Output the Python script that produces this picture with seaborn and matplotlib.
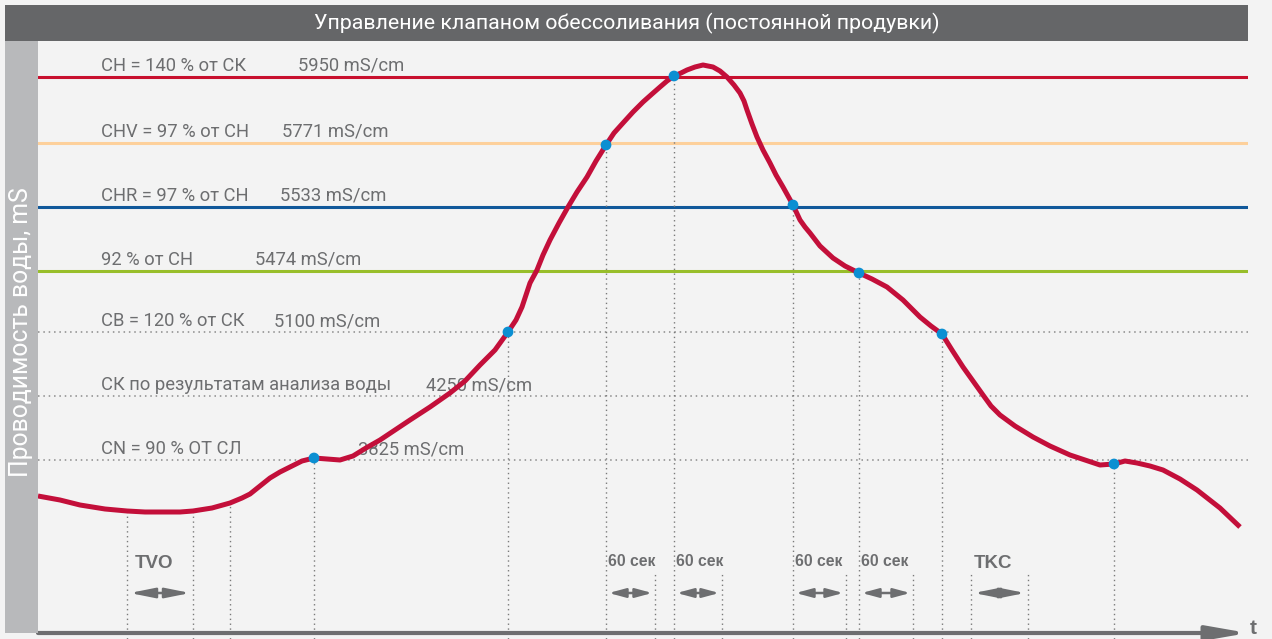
import numpy as np
import pandas as pd
import seaborn as sns
import matplotlib.pyplot as plt
from matplotlib.patches import Rectangle

# Threshold levels (schematic height above the time axis)
level_names = ["CH = 140 % от СК", "CHV = 97 % от CH", "CHR = 97 % от CH", "92 % от CH",
               "CB = 120 % от СК", "СК по результатам анализа воды", "CN = 90 % ОТ СЛ"]
level_values = [5950, 5771, 5533, 5474, 5100, 4250, 3825]
level_y = [556, 490, 426, 362, 301, 237, 173]
level_value_x = [260, 244, 242, 217, 236, 388, 320]

# Conductivity curve over time (schematic units)
curve_t = [0, 22, 42, 67, 89, 107, 125, 142, 155, 174,
           192, 204, 212, 222, 232, 242, 252, 264, 276, 289,
           302, 315, 328, 342, 357, 372, 392, 412, 427, 442,
           457, 470, 478, 484, 488, 492, 499, 505, 512, 521,
           530, 539, 549, 558, 568, 576, 585, 595, 605, 614,
           622, 629, 636, 643, 649, 657, 665, 675, 682, 689,
           696, 702, 706, 709, 714, 719, 725, 732, 738, 745,
           750, 755, 762, 767, 772, 782, 795, 807, 821, 834,
           849, 865, 882, 893, 904, 914, 925, 935, 945, 953,
           962, 977, 995, 1012, 1032, 1047, 1062, 1076, 1087, 1099,
           1112, 1125, 1142, 1159, 1182, 1202]
curve_c = [137, 133, 128, 124, 122, 121, 121, 121, 122, 125,
           130, 135, 139, 147, 155, 161, 166, 172, 175, 174,
           173, 177, 185, 193, 203, 213, 226, 240, 252, 268,
           283, 301, 313, 326, 338, 350, 363, 378, 393, 410,
           426, 441, 456, 472, 488, 500, 510, 521, 531, 539,
           546, 552, 557, 560, 563, 566, 568, 566, 562, 556,
           548, 540, 532, 523, 509, 496, 483, 470, 458, 446,
           437, 428, 413, 406, 400, 387, 375, 367, 360, 354,
           346, 333, 316, 307, 299, 283, 266, 252, 238, 227,
           218, 207, 196, 187, 178, 173, 168, 169, 172, 170,
           167, 163, 154, 143, 125, 106]

# Switching points on the curve
event_t = [276, 470, 568, 636, 755, 821, 904, 1076]
event_c = [175, 301, 488, 557, 428, 360, 299, 169]

# Dotted time markers and the height where each one starts
marker_t = [89, 155, 192, 276, 470, 568, 617, 636, 684, 755, 808, 821, 875, 904, 933, 990, 1076]
marker_top = [122, 122, 130, 175, 301, 488, 61, 557, 61, 428, 61, 360, 61, 299, 61, 61, 169]

# Timed intervals
interval_start = [89, 568, 636, 755, 821, 933]
interval_end = [155, 617, 684, 808, 875, 990]
interval_label = ["TVO", "60 сек", "60 сек", "60 сек", "60 сек", "TKC"]

W, H = 1272, 639
BG = "#f3f3f3"
GREY = "#6d6e70"
CURVE = "#c30f3a"
DOT = "#0b8fd2"
level_colors = ["#c8102e", "#fdd09b", "#10589a", "#98be2a", "#8a8a8a", "#8a8a8a", "#8a8a8a"]
level_solid = [True, True, True, True, False, False, False]

sns.set_theme(style="white")
plt.rcParams["font.family"] = ["Roboto", "DejaVu Sans"]

fig = plt.figure(figsize=(W / 100, H / 100), dpi=100, facecolor=BG)

# Header bar and side bar
fig.add_artist(Rectangle((5 / W, 1 - 41 / H), 1243 / W, 36 / H, transform=fig.transFigure,
                         facecolor="#656668", edgecolor="none"))
fig.add_artist(Rectangle((5 / W, 1 - 633 / H), 33 / W, 592 / H, transform=fig.transFigure,
                         facecolor="#b8b9bb", edgecolor="none"))
fig.text(626.5 / W, 1 - 23 / H, "Управление клапаном обессоливания (постоянной продувки)",
         color="white", fontsize=15.4, ha="center", va="center")
fig.text(21 / W, 1 - 332 / H, "Проводимость воды, mS", color="white", fontsize=17.8,
         rotation=90, ha="center", va="center")

ax = fig.add_axes([38 / W, 0, 1210 / W, (H - 41) / H])
ax.set_xlim(0, 1210)
ax.set_ylim(-6, 592)
ax.set_facecolor(BG)
ax.axis("off")

# Threshold lines with their captions
for name, val, y, vx, col, solid in zip(level_names, level_values, level_y, level_value_x,
                                        level_colors, level_solid):
    if solid:
        ax.axhline(y, color=col, lw=2.2, zorder=1)
    else:
        ax.axhline(y, color=col, lw=1.1, ls=(0, (1, 2.5)), zorder=1)
    ax.text(63, y + 6, name, color=GREY, fontsize=13.2, va="baseline", ha="left", zorder=2)
    ax.text(vx, y + 6, f"{val} mS/cm", color=GREY, fontsize=13.2, va="baseline", ha="left",
            zorder=2)

# Vertical time markers
ax.vlines(marker_t, -6, marker_top, colors="#7a7a7a", lw=1, linestyles=(0, (1, 2.5)),
          zorder=1)

# Conductivity curve and switching points
df = pd.DataFrame({"t": curve_t, "c": curve_c})
sns.lineplot(data=df, x="t", y="c", sort=False, estimator=None, color=CURVE, lw=3.6,
             ax=ax, zorder=3, solid_capstyle="butt", solid_joinstyle="round")
sns.scatterplot(x=event_t, y=event_c, color=DOT, s=60, edgecolor="none", ax=ax, zorder=4)

# Interval arrows and labels
for x0, x1, lab in zip(interval_start, interval_end, interval_label):
    short = lab.startswith("60")
    head = "head_length=1.0,head_width=0.27" if short else "head_length=1.5,head_width=0.3"
    ax.annotate("", xy=(x1, 40), xytext=(x0, 40),
                arrowprops=dict(arrowstyle="<|-|>," + head, mutation_scale=10,
                                color=GREY, lw=1.8, shrinkA=2, shrinkB=2))
    if short:
        ax.text(x0 + 2, 71, lab, color=GREY, fontsize=11.3, fontweight="bold",
                family="Liberation Sans", ha="left", va="center")
    else:
        ax.text((x0 + x1) / 2 - 6, 70, lab, color=GREY, fontsize=13.5, fontweight="bold",
                family="Liberation Sans", ha="center", va="center")

# Time axis with arrow head
ax.annotate("", xy=(1210, 0), xytext=(0, 0), annotation_clip=False,
            arrowprops=dict(arrowstyle="-|>,head_length=2.4,head_width=0.42",
                            mutation_scale=10, color=GREY, lw=3, shrinkA=0, shrinkB=0))
fig.text(1250 / W, 1 - 628 / H, "t", color=GREY, fontsize=15, fontweight="bold",
         family="Liberation Sans", ha="left", va="center")

fig.savefig("out.png", dpi=100, facecolor=BG)
